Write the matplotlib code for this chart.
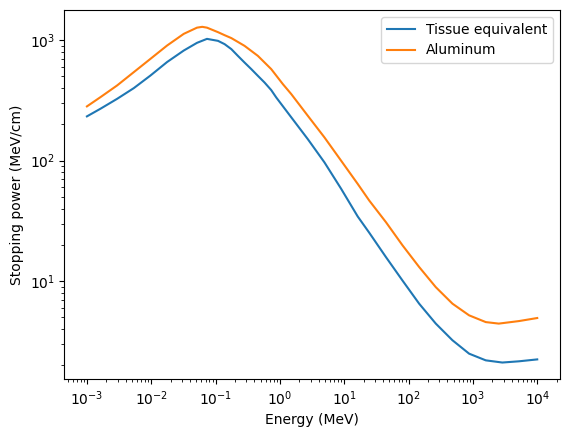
import matplotlib
matplotlib.use('Agg')
import matplotlib.pyplot as plt

# Energies (MeV) and stopping power (MeV/cm)
energy_tissue = [1e-3, 1.63e-3, 2.95e-3, 5.36e-3, 9.73e-3, 1.76e-2, 3.20e-2, 5.14e-2,
                 7.35e-2, 0.109, 0.138, 0.176, 0.222, 0.282, 0.359, 0.454, 0.577,
                 0.733, 0.875, 1.50, 2.71, 4.92, 8.93, 16.2, 24.5, 44.6, 80.6, 146,
                 265, 481, 873, 1585, 2865, 5200, 1e4]
sp_tissue = [233, 270, 326, 400, 509, 658, 820, 950,
             1025, 987, 927, 842, 741, 652, 575, 506, 445,
             385, 335, 229, 151, 96.8, 58.5, 34.4, 25.2, 15.8, 10.1, 6.50,
             4.44, 3.23, 2.50, 2.20, 2.11, 2.16, 2.24]

energy_al = [1e-3, 1.63e-3, 2.95e-3, 5.36e-3, 9.73e-3, 1.76e-2, 3.20e-2, 5.14e-2,
             6.2e-2, 7.35e-2, 0.109, 0.138, 0.176, 0.282, 0.454, 0.733, 1.11, 1.50,
             2.71, 4.92, 8.93, 16.2, 24.5, 44.6, 80.6, 146, 265, 481, 873, 1585,
             2525, 5200, 1e4]
sp_al = [282, 337, 421, 543, 700, 902, 1128, 1270,
         1290, 1270, 1165, 1100, 1040, 897, 741, 575, 432, 357,
         236, 156, 100, 64.1, 46.6, 30.8, 19.8, 13.1, 8.91, 6.50, 5.20, 4.57,
         4.44, 4.66, 4.94]

fig, ax = plt.subplots(figsize=(5.7, 4.37), dpi=100)
fig.subplots_adjust(left=0.113, right=0.982, top=0.977, bottom=0.132)

ax.loglog(energy_tissue, sp_tissue, label='Tissue equivalent')
ax.loglog(energy_al, sp_al, label='Aluminum')
ax.set_xlabel('Energy (MeV)')
ax.set_ylabel('Stopping power (MeV/cm)')
ax.legend()

fig.savefig('out.png')
